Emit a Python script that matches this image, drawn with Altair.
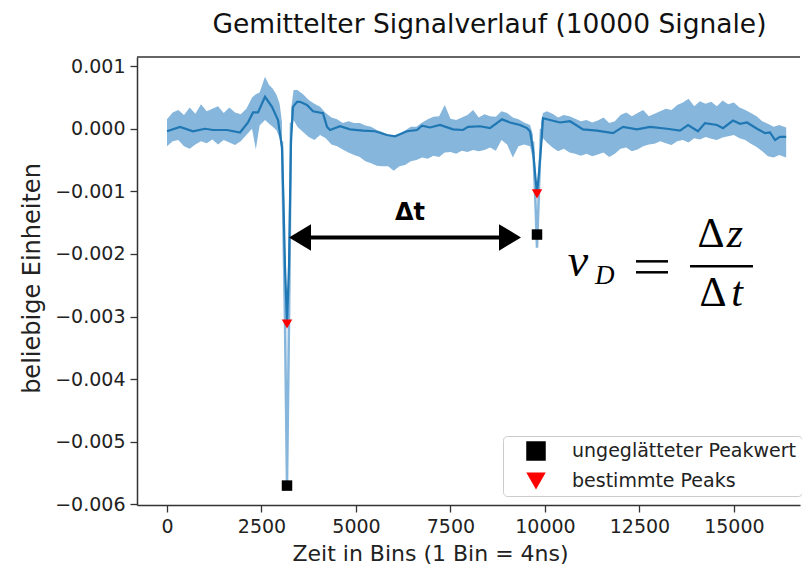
import altair as alt
import pandas as pd

# ---------------- data ----------------
# smoothed (dark) signal
smooth_x = [0, 344, 688, 1005, 1217, 1588, 1932, 2143, 2276, 2408,
            2593, 2778, 2937, 3043, 3083, 3122, 3175, 3228, 3254, 3281,
            3334, 3440, 3519, 3704, 3863, 4128, 4234, 4313, 4578, 4842,
            5186, 5504, 5821, 6033, 6350, 6615, 6747, 6959, 7224, 7568,
            7832, 7965, 8282, 8546, 8864, 9076, 9340, 9526, 9605, 9684,
            9737, 9790, 9843, 9896, 9949, 10134, 10399, 10664, 11007, 11378,
            11801, 12066, 12436, 12780, 13230, 13574, 13786, 14050, 14235, 14553,
            14712, 14976, 15161, 15347, 15611, 15823, 15955, 16088, 16220, 16383]
smooth_y = [-0.4e-4, 0.3e-4, -0.4e-4, 0.0, -0.2e-4, -0.2e-4, -0.6e-4, 1.0e-4, 2.6e-4, 2.6e-4,
            5.1e-4, 3.5e-4, 1.4e-4, -3.0e-4, -12e-4, -22e-4, -31e-4, -22e-4, -12e-4, -2.0e-4,
            3.5e-4, 4.3e-4, 4.3e-4, 3.8e-4, 2.8e-4, 2.5e-4, 0.3e-4, -0.2e-4, 0.4e-4, -0.1e-4,
            -0.3e-4, -0.4e-4, -1.0e-4, -1.2e-4, -0.4e-4, -0.2e-4, 0.5e-4, 0.2e-4, 0.6e-4, -0.1e-4,
            -0.2e-4, 0.3e-4, 0.4e-4, 0.1e-4, 1.5e-4, 1.0e-4, 0.6e-4, 0.1e-4, -0.4e-4, -3.3e-4,
            -7.0e-4, -10.4e-4, -7.0e-4, -3.0e-4, 1.7e-4, 1.4e-4, 1.0e-4, 1.2e-4, -0.1e-4, -0.3e-4,
            -0.7e-4, 0.3e-4, -0.1e-4, 0.3e-4, 0.0, -0.3e-4, 0.6e-4, -0.4e-4, 0.9e-4, 0.6e-4,
            0.1e-4, 1.3e-4, 0.8e-4, 1.0e-4, 0.0, -0.7e-4, -0.6e-4, -1.8e-4, -1.3e-4, -1.3e-4]

# raw (light) signal: envelope of the noise band, three pieces between the peaks
band1_x = [0, 150, 300, 450, 600, 750, 900, 1050, 1200, 1350, 1500, 1650, 1800, 1950,
           2100, 2250, 2350, 2450, 2593, 2700, 2800, 2900, 2980, 3043]
band1_hi = [1.5e-4, 2.6e-4, 3.0e-4, 2.2e-4, 3.4e-4, 2.4e-4, 3.9e-4, 2.8e-4, 3.2e-4, 3.6e-4,
            2.5e-4, 3.4e-4, 2.6e-4, 2.3e-4, 3.2e-4, 5.0e-4, 5.5e-4, 5.8e-4, 8.3e-4, 7.0e-4,
            6.4e-4, 5.4e-4, 4.0e-4, 1.0e-4]
band1_lo = [-2.8e-4, -2.0e-4, -1.8e-4, -2.8e-4, -3.2e-4, -2.5e-4, -2.0e-4, -2.3e-4, -1.7e-4, -2.5e-4,
            -1.8e-4, -2.2e-4, -2.6e-4, -2.0e-4, -1.0e-4, 0.0, -3.3e-4, 0.5e-4, 1.4e-4, 0.8e-4,
            0.3e-4, -0.3e-4, -1.5e-4, -4.0e-4]

band2_x = [3281, 3350, 3450, 3600, 3750, 3900, 4050, 4200, 4350, 4500, 4650, 4800, 4950,
           5100, 5250, 5400, 5550, 5700, 5850, 6000, 6150, 6300, 6450, 6600, 6750, 6900,
           7050, 7200, 7350, 7500, 7650, 7800, 7950, 8100, 8250, 8400, 8550, 8700, 8850,
           9000, 9150, 9300, 9450, 9605, 9684]
band2_hi = [3.0e-4, 6.2e-4, 6.2e-4, 5.5e-4, 4.6e-4, 4.0e-4, 3.5e-4, 2.5e-4, 1.8e-4, 1.5e-4,
            0.9e-4, 1.2e-4, 0.9e-4, 0.9e-4, 0.5e-4, 0.3e-4, -0.2e-4, -0.5e-4, -1.0e-4, -1.2e-4,
            -0.8e-4, -0.3e-4, 0.3e-4, 0.3e-4, 1.0e-4, 1.5e-4, 1.9e-4, 2.0e-4, 3.8e-4, 1.6e-4,
            1.4e-4, 1.8e-4, 2.2e-4, 3.0e-4, 1.8e-4, 2.3e-4, 2.0e-4, 1.9e-4, 2.8e-4, 2.5e-4,
            1.8e-4, 1.5e-4, 1.0e-4, 0.6e-4, -1.0e-4]
band2_lo = [-1.0e-4, 1.4e-4, 0.3e-4, -0.5e-4, -1.3e-4, -1.8e-4, -1.0e-4, -1.5e-4, -2.5e-4, -2.8e-4,
            -3.3e-4, -3.8e-4, -4.2e-4, -4.5e-4, -5.2e-4, -5.5e-4, -5.9e-4, -6.0e-4, -6.0e-4, -6.7e-4,
            -6.0e-4, -5.8e-4, -5.2e-4, -5.0e-4, -4.6e-4, -4.8e-4, -4.3e-4, -4.5e-4, -3.8e-4, -3.7e-4,
            -4.0e-4, -3.5e-4, -3.7e-4, -3.4e-4, -3.6e-4, -3.4e-4, -3.0e-4, -3.5e-4, -1.8e-4, -2.5e-4,
            -4.6e-4, -2.8e-4, -2.5e-4, -2.8e-4, -5.0e-4]

band3_x = [9896, 9949, 10050, 10200, 10350, 10500, 10650, 10800, 10950, 11100, 11250, 11400,
           11550, 11700, 11850, 12000, 12150, 12300, 12450, 12600, 12750, 12900, 13050, 13200,
           13350, 13500, 13650, 13800, 13950, 14100, 14250, 14400, 14550, 14700, 14850, 15000,
           15150, 15300, 15450, 15600, 15750, 15900, 16050, 16200, 16383]
band3_hi = [1.0e-4, 2.5e-4, 2.8e-4, 2.4e-4, 1.8e-4, 2.2e-4, 2.0e-4, 1.6e-4, 1.2e-4, 1.4e-4, 1.0e-4, 1.3e-4,
            1.8e-4, 0.9e-4, 1.2e-4, 2.2e-4, 2.6e-4, 2.0e-4, 2.5e-4, 3.0e-4, 2.0e-4, 2.4e-4, 2.8e-4, 3.2e-4,
            3.0e-4, 3.8e-4, 4.2e-4, 4.8e-4, 3.6e-4, 4.4e-4, 4.0e-4, 4.3e-4, 3.6e-4, 4.5e-4, 3.9e-4, 4.2e-4,
            3.4e-4, 3.0e-4, 2.5e-4, 2.0e-4, 1.2e-4, 0.8e-4, 0.3e-4, 0.6e-4, 0.2e-4]
band3_lo = [-3.0e-4, -1.5e-4, -2.2e-4, -3.0e-4, -3.6e-4, -3.2e-4, -3.8e-4, -4.0e-4, -4.3e-4, -4.0e-4, -4.4e-4, -4.1e-4,
            -3.8e-4, -4.5e-4, -4.0e-4, -3.2e-4, -3.0e-4, -3.6e-4, -3.3e-4, -2.8e-4, -2.5e-4, -2.4e-4, -2.0e-4, -2.3e-4,
            -2.6e-4, -2.0e-4, -1.8e-4, -2.2e-4, -1.5e-4, -1.7e-4, -1.3e-4, -1.6e-4, -1.8e-4, -1.4e-4, -1.2e-4, -1.0e-4,
            -1.5e-4, -1.8e-4, -2.4e-4, -2.9e-4, -3.6e-4, -4.4e-4, -4.6e-4, -4.2e-4, -4.6e-4]

# raw signal through the two peaks
dip1_x = [3043, 3120, 3175, 3230, 3281]
dip1_y = [-2.0e-4, -30e-4, -57e-4, -30e-4, 1.0e-4]
dip2_x = [9684, 9750, 9790, 9830, 9896]
dip2_y = [-2.0e-4, -12e-4, -19e-4, -12e-4, 0.0]

# markers
marker_type = ["ungeglätteter Peakwert", "ungeglätteter Peakwert", "bestimmte Peaks", "bestimmte Peaks"]
marker_x = [3175, 9790, 3175, 9790]
marker_y = [-57e-4, -16.9e-4, -31.2e-4, -10.4e-4]
legend_order = ["ungeglätteter Peakwert", "bestimmte Peaks"]

x_ticks = [0, 2500, 5000, 7500, 10000, 12500, 15000]
y_ticks = [-0.006, -0.005, -0.004, -0.003, -0.002, -0.001, 0.0, 0.001]
x_domain = [-794, 16749]
y_domain = [-0.00601, 0.001146]

# annotation (Δt arrow and formula)
arrow_x = [3519, 9076]
arrow_y = -0.001736
dt_label = ("Δt", 6430, -0.00134)

LIGHT = "#86b6db"
DARK = "#1f77b4"
FONT = "DejaVu Sans"

# ---------------- tables ----------------
smooth_df = pd.DataFrame({"x": smooth_x, "y": smooth_y})
band_df = pd.concat([
    pd.DataFrame({"x": band1_x, "hi": band1_hi, "lo": band1_lo, "seg": "a"}),
    pd.DataFrame({"x": band2_x, "hi": band2_hi, "lo": band2_lo, "seg": "b"}),
    pd.DataFrame({"x": band3_x, "hi": band3_hi, "lo": band3_lo, "seg": "c"}),
])
dip_df = pd.concat([
    pd.DataFrame({"x": dip1_x, "y": dip1_y, "seg": "a"}),
    pd.DataFrame({"x": dip2_x, "y": dip2_y, "seg": "b"}),
])
marker_df = pd.DataFrame({"type": marker_type, "x": marker_x, "y": marker_y})


def X(field="x"):
    return alt.X(f"{field}:Q", scale=alt.Scale(domain=x_domain, nice=False, zero=False),
                 axis=alt.Axis(values=x_ticks, format="d", title="Zeit in Bins (1 Bin = 4ns)",
                               titleX=293, titleY=48, titleBaseline="middle", titleAlign="center",
                               titleFontSize=22, labelPadding=5))


def Y(field="y"):
    return alt.Y(f"{field}:Q", scale=alt.Scale(domain=y_domain, nice=False, zero=False),
                 axis=alt.Axis(values=y_ticks, format=".3f", title="beliebige Einheiten",
                               titleX=-105, titleY=221, titleBaseline="middle", titleAlign="center",
                               titleFontSize=24, labelPadding=5))


band = alt.Chart(band_df).mark_area(color=LIGHT, opacity=1, interpolate="linear").encode(
    x=X(), y=Y("lo"), y2=alt.Y2("hi:Q"), detail="seg:N")

dips = alt.Chart(dip_df).mark_line(color=LIGHT, strokeWidth=2.5).encode(
    x=X(), y=Y(), detail="seg:N")

smooth = alt.Chart(smooth_df).mark_line(color=DARK, strokeWidth=2.2).encode(x=X(), y=Y())

markers = alt.Chart(marker_df).mark_point(filled=True, opacity=1, size=110, strokeWidth=0).encode(
    x=X(), y=Y(),
    shape=alt.Shape("type:N", scale=alt.Scale(domain=legend_order, range=["square", "triangle-down"]),
                    legend=alt.Legend(title=None)),
    color=alt.Color("type:N", scale=alt.Scale(domain=legend_order, range=["black", "red"]),
                    legend=alt.Legend(title=None)),
)

arrow_df = pd.DataFrame({"x": arrow_x, "y": [arrow_y, arrow_y]})
arrow_line = alt.Chart(arrow_df).mark_line(color="black", strokeWidth=4).encode(x=X(), y=Y())
head_l = alt.Chart(arrow_df.iloc[[0]]).mark_point(
    shape="M -1 0 L 1 -1.2 L 1 1.2 Z", filled=True, color="black", opacity=1, size=484, strokeWidth=0
).encode(x=X(), y=Y())
head_r = alt.Chart(arrow_df.iloc[[1]]).mark_point(
    shape="M 1 0 L -1 -1.2 L -1 1.2 Z", filled=True, color="black", opacity=1, size=484, strokeWidth=0
).encode(x=X(), y=Y())

dt_df = pd.DataFrame({"t": [dt_label[0]], "x": [dt_label[1]], "y": [dt_label[2]]})
dt_text = alt.Chart(dt_df).mark_text(font=FONT, fontSize=24, fontWeight="bold", color="black",
                                     baseline="middle").encode(x=X(), y=Y(), text="t:N")

# formula v_D = Δz / Δt
SERIF = "Liberation Serif"
f_v = pd.DataFrame({"t": ["v"], "x": [10875], "y": [-0.002357]})
f_italic = pd.DataFrame({"t": ["z", "t"], "x": [15029, 15082], "y": [-0.001895, -0.002834]})
f_upright = pd.DataFrame({"t": ["Δ", "Δ"], "x": [14394, 14447], "y": [-0.001895, -0.002834]})
f_sub = pd.DataFrame({"t": ["D"], "x": [11325], "y": [-0.002484]})
f_bar = pd.DataFrame({"x": [13839, 15506], "y": [-0.002197, -0.002197]})
f_eq = pd.DataFrame({"x": [12410, 13256, 12410, 13256],
                     "y": [-0.002118, -0.002118, -0.002293, -0.002293],
                     "seg": ["a", "a", "b", "b"]})

fv = alt.Chart(f_v).mark_text(font=SERIF, fontSize=46, fontStyle="italic", color="black",
                              baseline="alphabetic").encode(x=X(), y=Y(), text="t:N")
fi = alt.Chart(f_italic).mark_text(font=SERIF, fontSize=42, fontStyle="italic", color="black",
                                   baseline="alphabetic").encode(x=X(), y=Y(), text="t:N")
fu = alt.Chart(f_upright).mark_text(font=SERIF, fontSize=42, color="black",
                                    baseline="alphabetic").encode(x=X(), y=Y(), text="t:N")
fs = alt.Chart(f_sub).mark_text(font=SERIF, fontSize=27, fontStyle="italic", color="black",
                                align="left", baseline="alphabetic").encode(x=X(), y=Y(), text="t:N")
fb = alt.Chart(f_bar).mark_line(color="black", strokeWidth=2.5).encode(x=X(), y=Y())
fe = alt.Chart(f_eq).mark_line(color="black", strokeWidth=2.5).encode(x=X(), y=Y(), detail="seg:N")

top_spine = alt.Chart(pd.DataFrame({"y": [y_domain[1]]})).mark_rule(
    color="#333333", strokeWidth=1.5).encode(y=Y())

chart = alt.layer(
    band, dips, smooth, markers, arrow_line, head_l, head_r, dt_text, fv, fi, fu, fs, fb, fe, top_spine
).properties(
    width=663, height=448,
    autosize=alt.AutoSizeParams(type="none"),
    padding={"left": 129, "top": 49, "right": 2, "bottom": 64},
    title=alt.TitleParams("Gemittelter Signalverlauf (10000 Signale)", font=FONT, fontSize=26.5,
                          fontWeight="normal", color="#111111", anchor="middle", dx=21, offset=18),
).configure_view(stroke=None).configure_axis(
    labelFont=FONT, labelFontSize=19, labelColor="#222222",
    titleFont=FONT, titleFontWeight="normal", titleColor="#222222",
    tickColor="#333333", tickSize=7, tickWidth=1.3,
    domainColor="#333333", domainWidth=1.5, grid=False,
).configure_legend(
    orient="none", legendX=366, legendY=379, symbolSize=380, labelFont=FONT, labelFontSize=19,
    labelColor="#222222", labelLimit=0, strokeColor="#cccccc", fillColor="white", cornerRadius=4,
    padding=5, rowPadding=10, labelOffset=26, symbolOffset=18, symbolStrokeWidth=0,
)

chart.save("out.html", embed_options={"renderer": "svg", "actions": False})
